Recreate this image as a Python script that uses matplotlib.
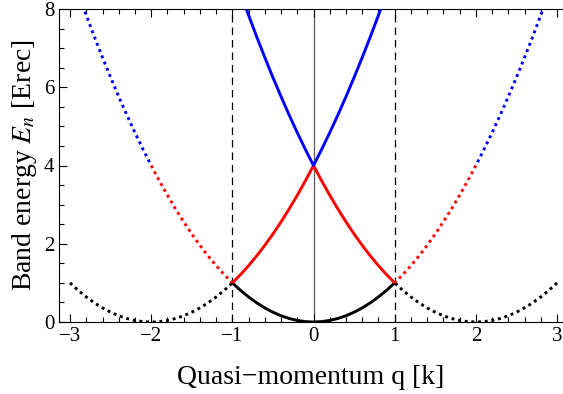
import matplotlib
matplotlib.use("Agg")
import matplotlib.pyplot as plt
from matplotlib.ticker import MultipleLocator

plt.rcParams["font.family"] = ["Liberation Serif", "DejaVu Serif"]
plt.rcParams["mathtext.fontset"] = "stix"

# ---- first Brillouin zone (solid) ----
q_in = [-1.0, -0.9, -0.8, -0.7, -0.6, -0.5, -0.4, -0.3, -0.2, -0.1, 0.0,
        0.1, 0.2, 0.3, 0.4, 0.5, 0.6, 0.7, 0.8, 0.9, 1.0]
e_band0 = [1.00, 0.81, 0.64, 0.49, 0.36, 0.25, 0.16, 0.09, 0.04, 0.01, 0.00,
           0.01, 0.04, 0.09, 0.16, 0.25, 0.36, 0.49, 0.64, 0.81, 1.00]
e_band1 = [1.00, 1.21, 1.44, 1.69, 1.96, 2.25, 2.56, 2.89, 3.24, 3.61, 4.00,
           3.61, 3.24, 2.89, 2.56, 2.25, 1.96, 1.69, 1.44, 1.21, 1.00]
e_band2 = [9.00, 8.41, 7.84, 7.29, 6.76, 6.25, 5.76, 5.29, 4.84, 4.41, 4.00,
           4.41, 4.84, 5.29, 5.76, 6.25, 6.76, 7.29, 7.84, 8.41, 9.00]

# ---- extended zone (dotted), left side; right side is the mirror ----
q_out0 = [-3.0, -2.9, -2.8, -2.7, -2.6, -2.5, -2.4, -2.3, -2.2, -2.1, -2.0,
          -1.9, -1.8, -1.7, -1.6, -1.5, -1.4, -1.3, -1.2, -1.1, -1.0]
e_out0 = [1.00, 0.81, 0.64, 0.49, 0.36, 0.25, 0.16, 0.09, 0.04, 0.01, 0.00,
          0.01, 0.04, 0.09, 0.16, 0.25, 0.36, 0.49, 0.64, 0.81, 1.00]
q_out1 = [-2.0, -1.9, -1.8, -1.7, -1.6, -1.5, -1.4, -1.3, -1.2, -1.1, -1.0]
e_out1 = [4.00, 3.61, 3.24, 2.89, 2.56, 2.25, 1.96, 1.69, 1.44, 1.21, 1.00]
q_out2 = [-3.0, -2.9, -2.8, -2.7, -2.6, -2.5, -2.4, -2.3, -2.2, -2.1, -2.0]
e_out2 = [9.00, 8.41, 7.84, 7.29, 6.76, 6.25, 5.76, 5.29, 4.84, 4.41, 4.00]

colors = ["black", "#ff0000", "#0000ff"]
lw = 2.1

fig = plt.figure(figsize=(5.63, 3.94), dpi=100)
ax = fig.add_axes([59 / 563, 72 / 394, 504 / 563, 313 / 394])

# zone boundaries and centre
ax.axvline(0, color="0.35", lw=0.9, zorder=1)
for qb in (-1, 1):
    ax.axvline(qb, color="black", lw=0.9, ls=(0, (6, 4)), zorder=1)

dot = (0, (1, 1.3))
for q, e, c in [(q_out0, e_out0, colors[0]),
                (q_out1, e_out1, colors[1]),
                (q_out2, e_out2, colors[2])]:
    ax.plot(q, e, color=c, lw=lw, ls=dot, zorder=2)
    ax.plot([-v for v in q], e, color=c, lw=lw, ls=dot, zorder=2)

for e, c in zip([e_band0, e_band1, e_band2], colors):
    ax.plot(q_in, e, color=c, lw=lw, solid_capstyle="butt", zorder=3)

ax.set_xlim(-3.136, 3.074)
ax.set_ylim(0, 8)
ax.spines["right"].set_visible(False)

ax.xaxis.set_major_locator(MultipleLocator(1))
ax.xaxis.set_minor_locator(MultipleLocator(0.2))
ax.yaxis.set_major_locator(MultipleLocator(2))
ax.yaxis.set_minor_locator(MultipleLocator(0.5))
ax.tick_params(which="both", direction="in", top=True, right=False,
               labelsize=15, width=0.8)
ax.tick_params(which="major", length=6)
ax.tick_params(which="minor", length=3.5)

ax.set_xlabel("Quasi\u2212momentum q [k]", fontsize=20, labelpad=14)
ax.set_ylabel("Band energy $E_n$ [Erec]", fontsize=20, labelpad=3)

fig.savefig("out.png", dpi=100)
